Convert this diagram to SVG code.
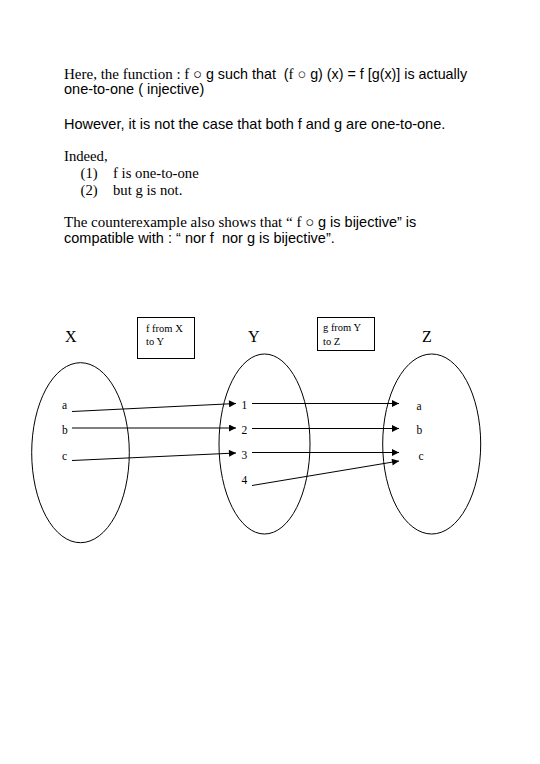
<svg xmlns="http://www.w3.org/2000/svg" width="540" height="764" viewBox="0 0 540 764">
<style>
text{white-space:pre}
.s{font-family:"Liberation Serif","Times New Roman",serif;fill:#000}
.a{font-family:"Liberation Sans",Arial,sans-serif;fill:#000}
.t{font-size:14.7px}
.lbl{font-family:"Liberation Serif","Times New Roman",serif;font-size:11.5px;fill:#000}
.bx{font-family:"Liberation Serif","Times New Roman",serif;font-size:10.5px;fill:#000}
.set{font-family:"Liberation Serif","Times New Roman",serif;font-size:16px;fill:#000}
.el{fill:none;stroke:#000;stroke-width:1}
.box{fill:#fff;stroke:#000;stroke-width:1}
.ln{stroke:#000;stroke-width:1;fill:none;marker-end:url(#ah)}
</style>
<defs>
<marker id="ah" viewBox="0 0 10 10" refX="10" refY="5" markerWidth="8" markerHeight="7" markerUnits="userSpaceOnUse" orient="auto">
<path d="M0,0 L10,5 L0,10 z" fill="#000"/>
</marker>
</defs>
<rect width="540" height="764" fill="#fff"/>
<g id="text">
<text x="64" y="78.5" font-size="15"><tspan class="s">Here, the function : f ○ </tspan><tspan class="a" font-size="14.3">g such that  (</tspan><tspan class="s">f</tspan><tspan class="a" font-size="14.3"> ○ g) (x) = f [g(x)] is actually</tspan></text>
<text x="64" y="94" class="a" font-size="14.5">one-to-one ( injective)</text>
<text x="64" y="128.5" class="a" font-size="14.5">However, it is not the case that both f and g are one-to-one.</text>
<text x="64" y="160.5" class="s t">Indeed,</text>
<text x="80.5" y="177.5" class="s t">(1)</text>
<text x="113" y="177.5" class="s t">f is one-to-one</text>
<text x="80.5" y="195" class="s t">(2)</text>
<text x="113" y="195" class="s t">but g is not.</text>
<text x="64" y="226.5" font-size="15"><tspan class="s">The counterexample also shows that “ f ○ </tspan><tspan class="a" font-size="14.5">g is bijective” is</tspan></text>
<text x="64" y="242.5" class="a" font-size="14.5">compatible with : “ nor f  nor g is bijective”.</text>
</g>
<g id="setX">
<text x="65" y="342" class="set">X</text>
<ellipse cx="80.5" cy="452.7" rx="48.8" ry="90" class="el"/>
<text x="62" y="409" class="lbl">a</text>
<text x="62" y="434" class="lbl">b</text>
<text x="62" y="459.5" class="lbl">c</text>
</g>
<g id="boxF">
<rect x="137.5" y="317.5" width="57" height="41" class="box"/>
<text x="146" y="331.5" class="bx">f from X</text>
<text x="146" y="345" class="bx">to Y</text>
</g>
<g id="setY">
<text x="248" y="342" class="set">Y</text>
<ellipse cx="264.5" cy="444" rx="45.5" ry="90" class="el"/>
<text x="241.5" y="408.5" class="lbl">1</text>
<text x="241.5" y="433.5" class="lbl">2</text>
<text x="241.5" y="459" class="lbl">3</text>
<text x="241.5" y="483.5" class="lbl">4</text>
</g>
<g id="boxG">
<rect x="317.5" y="317.5" width="57" height="33" class="box"/>
<text x="323" y="331" class="bx">g from Y</text>
<text x="323" y="345" class="bx">to Z</text>
</g>
<g id="setZ">
<text x="422" y="342" class="set">Z</text>
<ellipse cx="431.7" cy="444" rx="49" ry="90" class="el"/>
<text x="416.5" y="409.5" class="lbl">a</text>
<text x="416.5" y="434" class="lbl">b</text>
<text x="418.5" y="459.5" class="lbl">c</text>
</g>
<g id="connectors">
<line x1="72" y1="411.5" x2="236" y2="403.5" class="ln"/>
<line x1="72" y1="428" x2="236" y2="428" class="ln"/>
<line x1="72" y1="460.5" x2="236" y2="453" class="ln"/>
<line x1="252" y1="403.5" x2="399" y2="403.5" class="ln"/>
<line x1="252" y1="428.5" x2="399" y2="428.5" class="ln"/>
<line x1="252" y1="452.5" x2="399" y2="452.5" class="ln"/>
<line x1="252" y1="485.5" x2="399" y2="461" class="ln"/>
</g>
</svg>
